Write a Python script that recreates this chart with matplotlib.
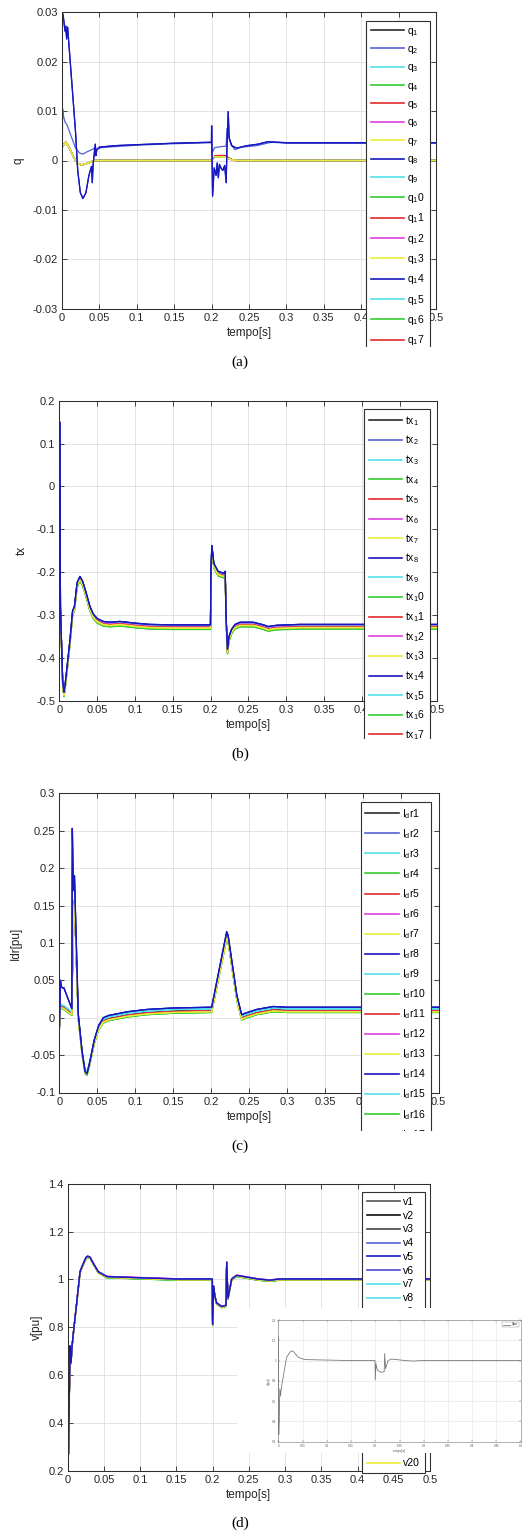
import matplotlib
matplotlib.use("Agg")
import matplotlib.pyplot as plt
from matplotlib.patches import Rectangle
from matplotlib.ticker import FuncFormatter

# ---------------------------------------------------------------- data
# time ticks shared by every panel
x_ticks = [0, 0.05, 0.1, 0.15, 0.2, 0.25, 0.3, 0.35, 0.4, 0.45, 0.5]

# (a) reactive power q -- distinct waveforms
qA_pts = [(0.0, -0.03), (0.0, 0.03), (0.0015, 0.0295), (0.004, 0.0262), (0.005, 0.0272),
          (0.0062, 0.0246), (0.0075, 0.027), (0.013, 0.016), (0.018, 0.006),
          (0.021, -0.002), (0.0245, -0.0065), (0.028, -0.0077), (0.032, -0.0065),
          (0.036, -0.003), (0.0395, -0.0012), (0.0405, -0.0045), (0.0415, -0.001),
          (0.0425, 0.0005), (0.0445, 0.0033), (0.0455, 0.001), (0.0465, 0.0022),
          (0.05, 0.0027), (0.07, 0.003), (0.1, 0.0032), (0.15, 0.0035), (0.1998, 0.0037),
          (0.2, 0.007), (0.2013, -0.0072), (0.2035, -0.0015), (0.206, -0.003),
          (0.2075, -0.0005), (0.209, -0.0035), (0.2105, -0.0008), (0.2125, -0.0015),
          (0.215, -0.002), (0.2175, -0.001), (0.2195, -0.0045), (0.2205, 0.0025),
          (0.2222, 0.0099), (0.2235, 0.0045), (0.227, 0.003), (0.2335, 0.0025),
          (0.247, 0.003), (0.262, 0.0033), (0.275, 0.0038), (0.3, 0.0036), (0.5, 0.0036)]
qB_pts = [(0.0, -0.008), (0.0008, 0.0105), (0.002, 0.009), (0.004, 0.0078), (0.0065, 0.0073),
          (0.012, 0.005), (0.018, 0.0026), (0.0235, 0.0015), (0.028, 0.0013), (0.034, 0.0018),
          (0.04, 0.0022), (0.043, 0.0025), (0.0445, 0.001), (0.046, 0.0022), (0.052, 0.0026),
          (0.07, 0.0028), (0.1, 0.0031), (0.15, 0.0034), (0.1998, 0.0036), (0.2005, 0.0015),
          (0.204, 0.0026), (0.212, 0.0028), (0.2195, 0.0029), (0.2205, 0.0065),
          (0.222, 0.0055), (0.226, 0.0032), (0.231, 0.0022), (0.24, 0.0027), (0.26, 0.003),
          (0.28, 0.0037), (0.3, 0.0035), (0.5, 0.0035)]
qC_pts = [(0.0, 0.003), (0.0015, 0.003), (0.005, 0.0037), (0.01, 0.0025), (0.016, 0.0005),
          (0.021, -0.0006), (0.026, -0.0009), (0.032, -0.0007), (0.038, -0.0003),
          (0.044, 0.0), (0.2, 0.0), (0.2008, 0.0006), (0.203, 0.0008), (0.219, 0.0007),
          (0.223, 0.0004), (0.228, 0.0001), (0.235, 0.0), (0.5, 0.0)]
qD_pts = [(0.0, 0.003), (0.0015, 0.003), (0.005, 0.0037), (0.01, 0.0025), (0.016, 0.0005),
          (0.021, -0.0006), (0.026, -0.0009), (0.032, -0.0007), (0.038, -0.0003),
          (0.044, 0.0), (0.2, 0.0), (0.204, 0.0009), (0.208, 0.001), (0.219, 0.001),
          (0.224, 0.0004), (0.23, 0.0), (0.5, 0.0)]
q_curve_of = ["C", "B", "C", "C", "D", "C", "C", "A", "C", "C", "D", "C", "C", "A", "C", "C", "D"]

# (b) tx -- common waveform plus the level of each series
tx_pts = [(0.0, 0.15), (0.0008, 0.15), (0.0015, -0.28), (0.0045, -0.455), (0.0062, -0.48),
          (0.0075, -0.465), (0.0097, -0.43), (0.014, -0.36), (0.0176, -0.29), (0.02, -0.28),
          (0.0235, -0.225), (0.0273, -0.21), (0.031, -0.222), (0.035, -0.245),
          (0.0405, -0.28), (0.045, -0.298), (0.05, -0.308), (0.058, -0.315), (0.067, -0.317),
          (0.08, -0.315), (0.1, -0.319), (0.12, -0.322), (0.15, -0.323), (0.2, -0.323),
          (0.2005, -0.2), (0.2018, -0.138), (0.2045, -0.18), (0.21, -0.198), (0.218, -0.203),
          (0.2195, -0.198), (0.2205, -0.3), (0.2225, -0.38), (0.2245, -0.35), (0.228, -0.333),
          (0.2325, -0.322), (0.239, -0.317), (0.2566, -0.317), (0.27, -0.323),
          (0.2765, -0.327), (0.2875, -0.324), (0.318, -0.322), (0.5, -0.322)]
tx_shift = [-0.010, 0.0, -0.001, -0.011, -0.006, -0.004, -0.008, 0.0, -0.002, -0.010,
            -0.005, -0.003, -0.007, 0.0, -0.001, -0.009, -0.006]

# (c) Idr -- blue-type and other-type waveforms plus per-series level
idr_blue_pts = [(0.0, -0.02), (0.0015, 0.05), (0.0025, 0.042), (0.004, 0.04), (0.006, 0.04),
                (0.0165, 0.012), (0.0172, 0.253), (0.0185, 0.17), (0.02, 0.19), (0.025, 0.005),
                (0.03, -0.045), (0.034, -0.072), (0.0365, -0.075), (0.04, -0.06),
                (0.046, -0.03), (0.052, -0.01), (0.058, 0.0), (0.065, 0.003), (0.075, 0.005),
                (0.09, 0.008), (0.115, 0.011), (0.15, 0.013), (0.2, 0.014), (0.2008, 0.014),
                (0.2206, 0.115), (0.2225, 0.11), (0.234, 0.03), (0.2403, 0.004),
                (0.245, 0.006), (0.26, 0.011), (0.282, 0.015), (0.3, 0.014), (0.5, 0.014)]
idr_other_pts = [(0.0, -0.01), (0.0015, 0.02), (0.006, 0.018), (0.0165, 0.01), (0.0185, 0.15),
                 (0.02, 0.16), (0.025, 0.005), (0.03, -0.042), (0.034, -0.068),
                 (0.0365, -0.07), (0.04, -0.057), (0.046, -0.028), (0.052, -0.009),
                 (0.058, 0.0), (0.065, 0.003), (0.075, 0.005), (0.09, 0.008), (0.115, 0.011),
                 (0.15, 0.013), (0.2, 0.014), (0.2008, 0.014), (0.2206, 0.112),
                 (0.2225, 0.108), (0.234, 0.03), (0.2403, 0.004), (0.245, 0.006),
                 (0.26, 0.011), (0.282, 0.015), (0.3, 0.014), (0.5, 0.014)]
idr_shift = [-0.004, 0.0, -0.002, -0.007, -0.005, -0.005, -0.006, 0.0, -0.002, -0.007,
             -0.005, -0.005, -0.006, 0.0, -0.002, -0.007, -0.005]

# (d) bus voltages v
v_pts = [(0.0, 1.24), (0.0006, 0.6), (0.001, 0.27), (0.0022, 0.5), (0.0032, 0.72),
         (0.0046, 0.65), (0.006, 0.72), (0.0087, 0.8), (0.0124, 0.9), (0.017, 1.03),
         (0.0195, 1.05), (0.0253, 1.09), (0.0276, 1.095), (0.031, 1.09), (0.0354, 1.065),
         (0.0423, 1.03), (0.054, 1.01), (0.1, 1.005), (0.15, 1.0), (0.1995, 1.0), (0.2, 0.81),
         (0.2015, 0.97), (0.203, 0.93), (0.2055, 0.9), (0.2125, 0.885), (0.2185, 0.89),
         (0.2194, 1.07), (0.2212, 0.92), (0.2263, 1.0), (0.2332, 1.015), (0.247, 1.008),
         (0.262, 1.0), (0.279, 0.995), (0.293, 1.0), (0.5, 1.0)]
v_shift = [0.0, 0.0, 0.0, 0.002, 0.002, 0.002, 0.0, 0.0, 0.0, -0.003,
           -0.003, -0.003, 0.0, 0.0, 0.0, 0.003, 0.003, 0.003, -0.001, -0.001]

# ---------------------------------------------------------------- style
K, B2, B, C, G, R, M, Y = ("#2b2b2b", "#5262d4", "#1717c0", "#4fe2e6", "#35cc35",
                           "#e02a2a", "#e040e0", "#ecec3a")
cyc17 = [K, B2, C, G, R, M, Y, B, C, G, R, M, Y, B, C, G, R]
v_colors = ["#555555", "#111111", "#444444", B2, B, "#4a4ad0", C, C, C, G,
            G, G, R, R, R, M, M, M, Y, Y]
ZORD = {B: 2.4, B2: 2.3, "#4a4ad0": 2.3, Y: 2.1}

plt.rcParams["font.family"] = ["Liberation Sans", "DejaVu Sans"]
plt.rcParams["mathtext.fontset"] = "custom"
plt.rcParams["mathtext.rm"] = "Liberation Sans"
plt.rcParams["mathtext.it"] = "Liberation Sans:italic"
plt.rcParams["axes.unicode_minus"] = False

FIG_W, FIG_H = 523, 1535
fig = plt.figure(figsize=(FIG_W / 100, FIG_H / 100), dpi=100)


def fig_rect(l, t, r, b):
    return [l / FIG_W, 1 - b / FIG_H, (r - l) / FIG_W, (b - t) / FIG_H]


def anchor(box, x, y):
    l, t, r, b = box
    return ((x - l) / (r - l), (b - y) / (b - t))


fmt = FuncFormatter(lambda v, _: f"{round(v, 4):g}")


def style_axes(ax, yticks, ylabel, ylabel_x, size=8, lab=8.5):
    ax.set_xlim(0, 0.5)
    ax.set_ylim(yticks[0], yticks[-1])
    ax.set_xticks(x_ticks)
    ax.set_yticks(yticks)
    ax.xaxis.set_major_formatter(fmt)
    ax.yaxis.set_major_formatter(fmt)
    ax.tick_params(direction="in", top=True, right=True, length=3.5, width=0.6,
                   labelsize=size, colors="#262626", pad=3)
    ax.grid(True, color="#dedede", linewidth=0.6)
    ax.set_axisbelow(True)
    for s in ax.spines.values():
        s.set_color("#2e2e2e")
        s.set_linewidth(0.75)
    ax.set_xlabel("tempo[s]", fontsize=lab, labelpad=3, color="#262626")
    ax.set_ylabel(ylabel, fontsize=lab, color="#262626")
    ax.yaxis.set_label_coords(ylabel_x, 0.5)


def add_legend(ax, box, corner, spacing):
    leg = ax.legend(loc="upper left", bbox_to_anchor=anchor(box, *corner), borderaxespad=0,
                    fontsize=7.5, fancybox=False, edgecolor="#303030", framealpha=1,
                    handlelength=3.2, handletextpad=0.3, labelspacing=spacing, borderpad=0.45)
    leg.get_frame().set_linewidth(0.8)
    for ln in leg.get_lines():
        ln.set_linewidth(1.2)
    return leg


def sub_label(base, n):
    return f"{base}$_{{{n}}}$" if n < 10 else f"{base}$_{{{n // 10}}}${n % 10}"


def white_box(l, t, r, b, z=10):
    fig.add_artist(Rectangle((l / FIG_W, 1 - b / FIG_H), (r - l) / FIG_W, (b - t) / FIG_H,
                             transform=fig.transFigure, facecolor="white",
                             edgecolor="none", zorder=z))


# ---------------------------------------------------------------- (a)
BOX_A = (62, 12.3, 436, 308.7)
ax = fig.add_axes(fig_rect(*BOX_A))
q_curves = {"A": qA_pts, "B": qB_pts, "C": qC_pts, "D": qD_pts}
for i, key in enumerate(q_curve_of):
    t, v = zip(*q_curves[key])
    col = cyc17[i]
    ax.plot(t, v, color=col, lw=0.9, zorder=ZORD.get(col, 2), label=sub_label("q", i + 1))
style_axes(ax, [-0.03, -0.02, -0.01, 0, 0.01, 0.02, 0.03], "q", -0.099)
add_legend(ax, BOX_A, (366, 21), 0.61)
white_box(340, BOX_A[3] + 38, 450, BOX_A[3] + 75)

# ---------------------------------------------------------------- (b)
BOX_B = (59.3, 400.7, 437.3, 700.7)
ax = fig.add_axes(fig_rect(*BOX_B))
t, v = zip(*tx_pts)
for i, dv in enumerate(tx_shift):
    col = cyc17[i]
    ax.plot(t, [y + dv for y in v], color=col, lw=0.9, zorder=ZORD.get(col, 2),
            label=sub_label("tx", i + 1))
style_axes(ax, [-0.5, -0.4, -0.3, -0.2, -0.1, 0, 0.1, 0.2], "tx", -0.083)
add_legend(ax, BOX_B, (364, 409.3), 0.56)
white_box(340, BOX_B[3] + 38, 450, BOX_B[3] + 75)

# ---------------------------------------------------------------- (c)
BOX_C = (59.3, 793.3, 438.7, 1092.5)
ax = fig.add_axes(fig_rect(*BOX_C))
for i, dv in enumerate(idr_shift):
    col = cyc17[i]
    pts = idr_blue_pts if col in (B, B2) else idr_other_pts
    t, v = zip(*pts)
    ax.plot(t, [y + dv for y in v], color=col, lw=0.9, zorder=ZORD.get(col, 2),
            label=r"I$_{\mathrm{d}}$r" + str(i + 1))
style_axes(ax, [-0.1, -0.05, 0, 0.05, 0.1, 0.15, 0.2, 0.25, 0.3], "Idr[pu]", -0.098)
add_legend(ax, BOX_C, (360.7, 802.3), 0.6)
white_box(340, BOX_C[3] + 38, 450, BOX_C[3] + 75)

# ---------------------------------------------------------------- (d)
BOX_D = (67.7, 1183.7, 430, 1471)
ax = fig.add_axes(fig_rect(*BOX_D))
t, v = zip(*v_pts)
for i, dv in enumerate(v_shift):
    col = v_colors[i]
    ax.plot(t, [y + dv for y in v], color=col, lw=0.9, zorder=ZORD.get(col, 2),
            label=f"v{i + 1}")
style_axes(ax, [0.2, 0.4, 0.6, 0.8, 1.0, 1.2, 1.4], "v[pu]", -0.068)
add_legend(ax, BOX_D, (362, 1192.3), 0.36)

# pasted inset screenshot over the lower right of (d)
white_box(236.7, 1308, 523, 1453)
axi = fig.add_axes(fig_rect(278.3, 1320, 520.7, 1441.7))
axi.set_zorder(20)
axi.plot(t, v, color="#7a7a7a", lw=0.6, label="Vpcc")
axi.set_xlim(0, 0.5)
axi.set_ylim(0.2, 1.4)
axi.set_xticks(x_ticks)
axi.set_yticks([0.2, 0.4, 0.6, 0.8, 1.0, 1.2, 1.4])
axi.xaxis.set_major_formatter(fmt)
axi.yaxis.set_major_formatter(fmt)
axi.tick_params(direction="in", top=True, right=True, length=1.2, width=0.3,
                labelsize=2.2, colors="#555555", pad=1.5)
axi.grid(True, color="#e2e2e2", linewidth=0.4)
axi.set_axisbelow(True)
for s in axi.spines.values():
    s.set_color("#777777")
    s.set_linewidth(0.4)
axi.set_xlabel("tempo[s]", fontsize=2.4, labelpad=1, color="#555555")
axi.set_ylabel("v[pu]", fontsize=2.4, labelpad=1, color="#555555")
li = axi.legend(loc="upper right", fontsize=2, fancybox=False, edgecolor="#888888",
                framealpha=1, handlelength=2.5, borderaxespad=0.6, borderpad=0.3)
li.get_frame().set_linewidth(0.3)

# ---------------------------------------------------------------- captions
for lab, y in [("(a)", 362), ("(b)", 754), ("(c)", 1146), ("(d)", 1523)]:
    fig.text(240 / FIG_W, 1 - y / FIG_H, lab, ha="center", va="center", fontsize=11,
             family=["Liberation Serif", "DejaVu Serif"], zorder=30)

fig.savefig("out.png", dpi=100, facecolor="white")
